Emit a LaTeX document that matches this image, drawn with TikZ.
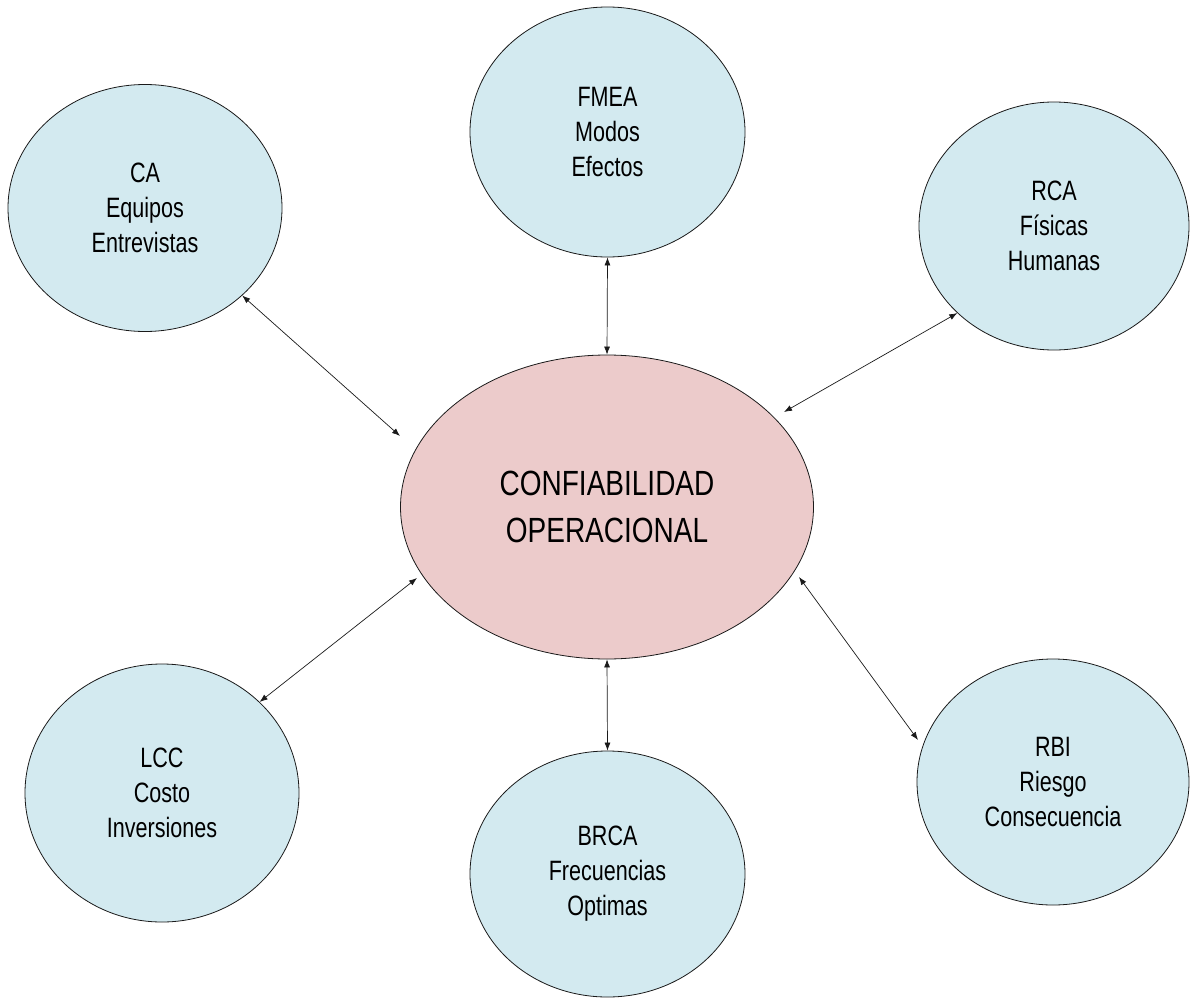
\documentclass[tikz,border=0pt]{standalone}
\usepackage{fontspec}
\setmainfont{Liberation Sans}[FakeStretch=0.81]
\newfontfamily\satfont{Liberation Sans}[FakeStretch=0.77]
\newfontfamily\corefont{Liberation Sans}[FakeStretch=0.8]
\usetikzlibrary{shapes.geometric,arrows.meta}

\definecolor{satfill}{HTML}{D3EAF0}
\definecolor{corefill}{HTML}{ECCBCB}
\definecolor{rim}{HTML}{1A1A1A}

\tikzset{
  satellite/.style={ellipse, draw=rim, line width=0.8pt, fill=satfill,
    inner sep=0pt, align=center, font=\satfont\fontsize{28}{35}\selectfont},
  core/.style={ellipse, draw=rim, line width=0.8pt, fill=corefill,
    inner sep=0pt, align=center, font=\corefont\fontsize{35}{47.5}\selectfont},
  link/.style={line width=0.7pt, draw=rim,
    {Latex[length=8pt,width=6pt]}-{Latex[length=8pt,width=6pt]}}
}

\begin{document}
\begin{tikzpicture}[x=1pt, y=-1pt]
  \useasboundingbox (0,0) rectangle (1191,998);

  % central concept
  \node[core, minimum width=413pt, minimum height=304pt] (cf) at (607,507)
    {CONFIABILIDAD\\OPERACIONAL};

  % surrounding techniques
  \node[satellite, minimum width=274pt, minimum height=247pt] (ca) at (145,208)
    {CA\\Equipos\\Entrevistas};
  \node[satellite, minimum width=275pt, minimum height=250pt] (fm) at (607.5,132)
    {FMEA\\Modos\\Efectos};
  \node[satellite, minimum width=270pt, minimum height=248pt] (rc) at (1054,226)
    {RCA\\Físicas\\Humanas};
  \node[satellite, minimum width=274pt, minimum height=258pt] (lc) at (162,793)
    {LCC\\Costo\\Inversiones};
  \node[satellite, minimum width=275pt, minimum height=246pt] (br) at (607.5,874)
    {BRCA\\Frecuencias\\Optimas};
  \node[satellite, minimum width=272pt, minimum height=246pt] (rb) at (1053,782)
    {RBI\\Riesgo\\Consecuencia};

  % arrow ends that stop short of the ellipses
  \coordinate (caIn) at (400,436);
  \coordinate (rcIn) at (784,412);
  \coordinate (lcIn) at (417,578);
  \coordinate (rbIn) at (799,577);
  \coordinate (rbOut) at (918,740);

  % two-way links
  \draw[link] (ca.-42.6) -- (caIn);
  \draw[link] (fm.south) -- (cf.north);
  \draw[link] (rc.222.8) -- (rcIn);
  \draw[link] (lc.43.5) -- (lcIn);
  \draw[link] (cf.south) -- (br.north);
  \draw[link] (rbOut) -- (rbIn);
\end{tikzpicture}
\end{document}
